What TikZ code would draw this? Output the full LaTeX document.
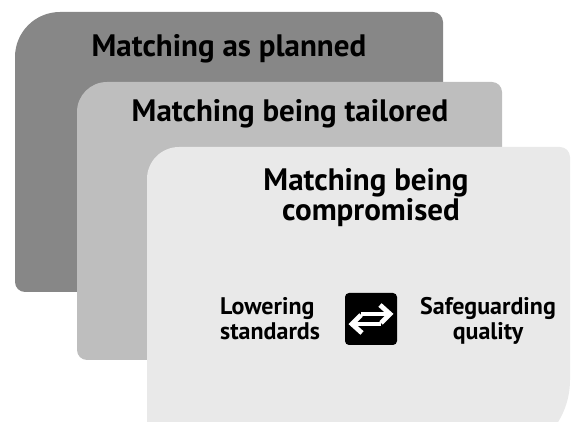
\documentclass[tikz,border=0pt]{standalone}
\usepackage{fontspec}
\setmainfont{PT Sans}
\begin{document}
\begin{tikzpicture}[x=1pt,y=-1pt,
  title/.style={font=\fontsize{31}{35}\selectfont\bfseries, inner sep=0pt, anchor=base},
  label/.style={font=\fontsize{24}{28}\selectfont\bfseries, inner sep=0pt, anchor=base},
  arrowline/.style={draw=white, line width=4.8pt, line cap=butt, line join=miter}]
\definecolor{planned}{HTML}{878787}
\definecolor{tailored}{HTML}{BEBEBE}
\definecolor{compromised}{HTML}{E9E9E9}
\useasboundingbox (0,0) rectangle (571,422);

% back card: matching as planned
\fill[planned] (15,150)
  {[rounded corners=45pt] -- (15,12) -- (230,12)}
  {[rounded corners=10pt] -- (443,12) -- (443,150)}
  {[rounded corners=10pt] -- (443,292) -- (230,292)}
  {[rounded corners=10pt] -- (15,292) -- (15,150)} -- cycle;

% middle card: matching being tailored
\fill[tailored] (77,220)
  {[rounded corners=30pt] -- (77,82) -- (290,82)}
  {[rounded corners=10pt] -- (502,82) -- (502,220)}
  {[rounded corners=10pt] -- (502,360) -- (290,360)}
  {[rounded corners=10pt] -- (77,360) -- (77,220)} -- cycle;

% front card: matching being compromised
\fill[compromised] (147,300)
  {[rounded corners=32pt] -- (147,147) -- (360,147)}
  {[rounded corners=10pt] -- (570,147) -- (570,300)}
  {[rounded corners=80pt] -- (570,460) -- (360,460)}
  {[rounded corners=10pt] -- (147,460) -- (147,300)} -- cycle;

\node[title] (planned) at (229,57) {Matching as planned};
\node[title] (tailored) at (290,122) {Matching being tailored};
\node[title] (compA) at (366,190.5) {Matching being};
\node[title] (compB) at (371,221) {compromised};

\node[label, anchor=base west] (lowA) at (220,314.3) {Lowering};
\node[label, anchor=base west] (lowB) at (220,340) {standards};
\node[label] (safeA) at (488,315) {Safeguarding};
\node[label] (safeB) at (488,340) {quality};

% exchange icon
\node[fill=black, rounded corners=4pt, minimum size=52pt, inner sep=0pt] (icon) at (371,319) {};
\draw[arrowline] ([shift={(-10,-5)}]icon.center) -- ([shift={(19,-5)}]icon.center);
\draw[arrowline] ([shift={(9,-14)}]icon.center) -- ([shift={(19,-5)}]icon.center) -- ([shift={(10,4)}]icon.center);
\draw[arrowline] ([shift={(10,5)}]icon.center) -- ([shift={(-19,5)}]icon.center);
\draw[arrowline] ([shift={(-9,14)}]icon.center) -- ([shift={(-19,5)}]icon.center) -- ([shift={(-10,-4)}]icon.center);
\end{tikzpicture}
\end{document}
